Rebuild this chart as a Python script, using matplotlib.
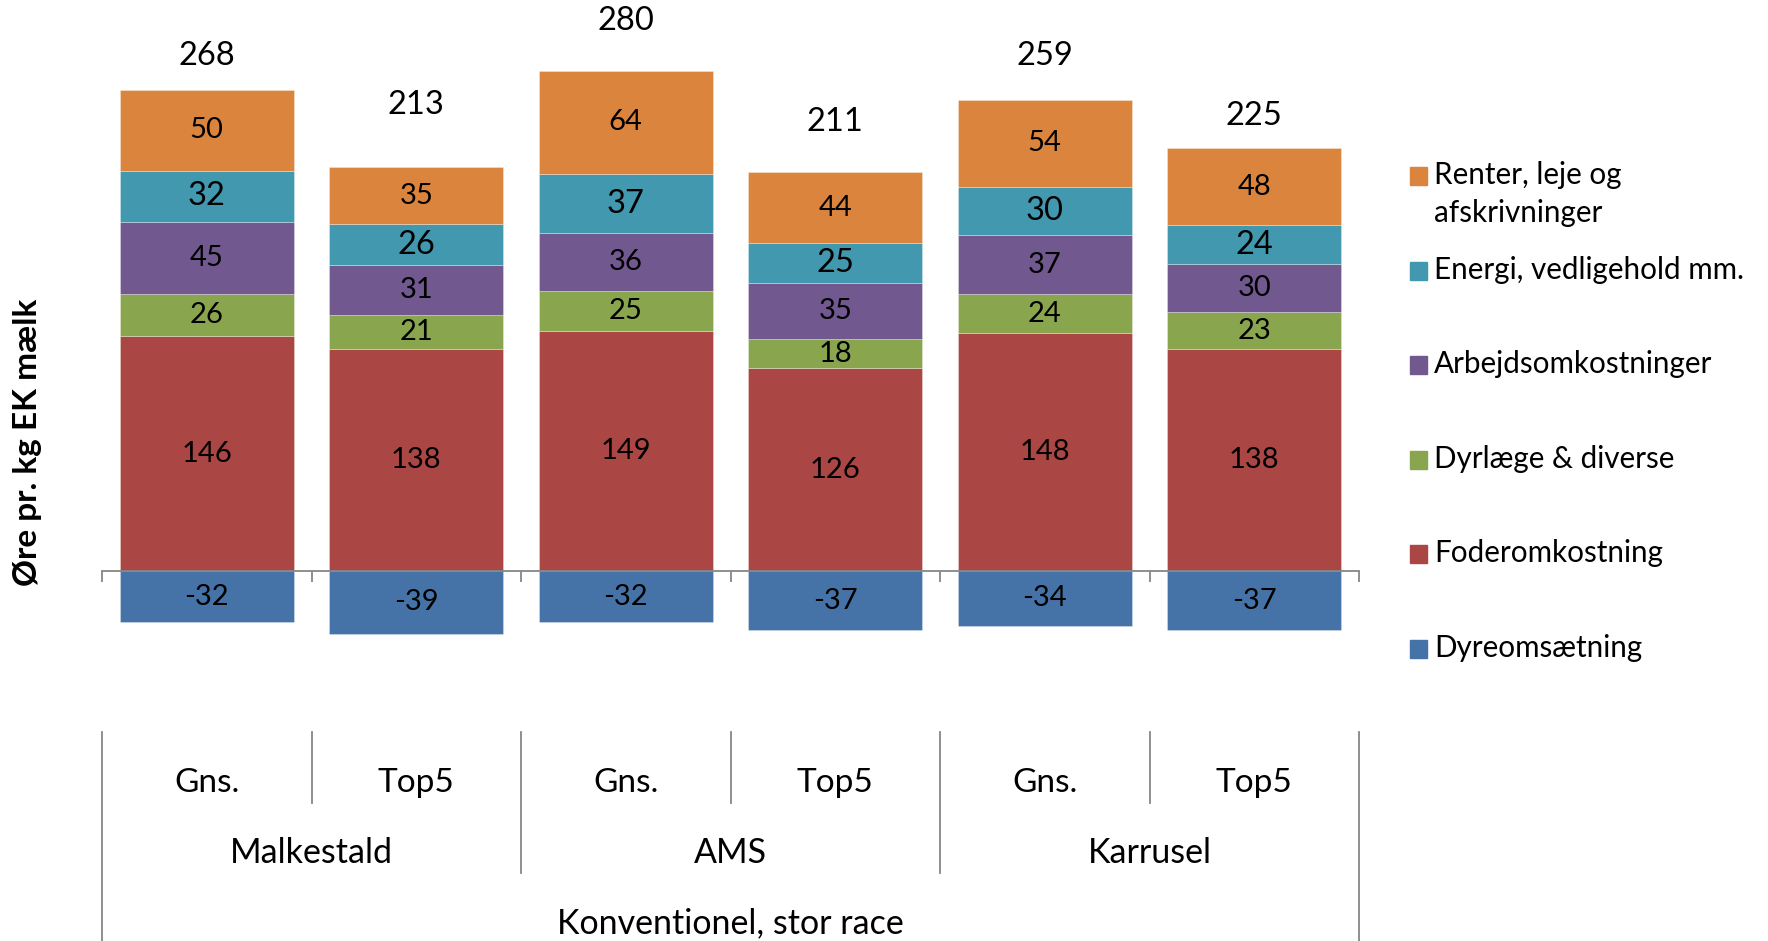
import matplotlib

matplotlib.use("Agg")
import matplotlib.pyplot as plt
import numpy as np
from matplotlib.lines import Line2D
from matplotlib.patches import Rectangle
from matplotlib.transforms import blended_transform_factory

plt.rcParams["font.family"] = ["Lato", "DejaVu Sans"]

# data
subgroups = ["Gns.", "Top5", "Gns.", "Top5", "Gns.", "Top5"]
groups = ["Malkestald", "AMS", "Karrusel"]
supergroup = "Konventionel, stor race"

dyreomsaetning = [-32, -39, -32, -37, -34, -37]
foder = [146, 138, 149, 126, 148, 138]
dyrlaege = [26, 21, 25, 18, 24, 23]
arbejde = [45, 31, 36, 35, 37, 30]
energi = [32, 26, 37, 25, 30, 24]
renter = [50, 35, 64, 44, 54, 48]
totals = [268, 213, 280, 211, 259, 225]

legend_labels = [
    "Renter, leje og\nafskrivninger",
    "Energi, vedligehold mm.",
    "Arbejdsomkostninger",
    "Dyrlæge & diverse",
    "Foderomkostning",
    "Dyreomsætning",
]

C_BLUE = "#4572A7"
C_RED = "#AA4643"
C_GREEN = "#89A54E"
C_PURPLE = "#71588F"
C_TEAL = "#4198AF"
C_ORANGE = "#DB843D"
GRAY = "#868686"

W, H = 1768, 941
fig = plt.figure(figsize=(W / 100, H / 100), dpi=100)

ax_left, ax_right = 102, 1359
ax_top, ax_bottom = 0, 660
zero_px = 571
scale = 1.608  # px per unit
ax = fig.add_axes([ax_left / W, 1 - ax_bottom / H, (ax_right - ax_left) / W, (ax_bottom - ax_top) / H])
ax.set_xlim(-0.5, 5.5)
ax.set_ylim(-(ax_bottom - zero_px) / scale, zero_px / scale)

x = np.arange(len(subgroups))
bw = 0.83
edge = dict(edgecolor=(1, 1, 1, 0.35), linewidth=0.6)

ax.bar(x, dyreomsaetning, width=bw, color=C_BLUE, **edge)
for i, v in enumerate(dyreomsaetning):
    ax.text(x[i], v / 2, str(v), ha="center", va="center", fontsize=21)

stack = [(foder, C_RED, 21), (dyrlaege, C_GREEN, 21), (arbejde, C_PURPLE, 21),
         (energi, C_TEAL, 23.5), (renter, C_ORANGE, 21)]
bottom = np.zeros(len(x))
for vals, col, fs in stack:
    vals = np.array(vals)
    ax.bar(x, vals, width=bw, bottom=bottom, color=col, **edge)
    for i, v in enumerate(vals):
        ax.text(x[i], bottom[i] + v / 2, str(v), ha="center", va="center", fontsize=fs)
    bottom = bottom + vals

# total labels sit above each positive stack (offsets)
total_pad = [21, 39, 31, 31, 27, 20]
for i, t in enumerate(totals):
    ax.text(x[i], bottom[i] + total_pad[i], str(t), ha="center", va="center", fontsize=23.5)

# axis styling
for s in ["left", "right", "top"]:
    ax.spines[s].set_visible(False)
ax.spines["bottom"].set_position(("data", 0))
ax.spines["bottom"].set_color(GRAY)
ax.spines["bottom"].set_linewidth(1.3)
ax.set_yticks([])
ax.set_xticks(np.arange(-0.5, 6, 1))
ax.tick_params(axis="x", direction="out", length=8, width=1.3, color=GRAY, labelbottom=False)

# multi-level category axis
tr = blended_transform_factory(ax.transData, fig.transFigure)


def fy(px):
    return 1 - px / H


def vline(xd, y0, y1):
    fig.add_artist(Line2D([xd, xd], [fy(y0), fy(y1)], transform=tr, color=GRAY, lw=1.3))


for b in [-0.5, 5.5]:
    vline(b, 732, 941)
for b in [1.5, 3.5]:
    vline(b, 732, 873)
for b in [0.5, 2.5, 4.5]:
    vline(b, 732, 803)

for i, lab in enumerate(subgroups):
    fig.text(x[i], fy(792), lab, transform=tr, ha="center", va="baseline", fontsize=24)
for j, lab in enumerate(groups):
    fig.text(2 * j + 0.5, fy(863), lab, transform=tr, ha="center", va="baseline", fontsize=24.5)
fig.text(2.5, fy(933), supergroup, transform=tr, ha="center", va="baseline", fontsize=24.5)

fig.text(28 / W, fy(442), "Øre pr. kg EK mælk", rotation=90, ha="center", va="center",
         fontsize=24, fontweight="bold")

# legend, drawn by hand to keep the square on the first text line
leg_colors = [C_ORANGE, C_TEAL, C_PURPLE, C_GREEN, C_RED, C_BLUE]
for k, (lab, col) in enumerate(zip(legend_labels, leg_colors)):
    yc = 176 + k * 94.6
    fig.add_artist(Rectangle((1410 / W, fy(yc + 9)), 17 / W, 18 / H, transform=fig.transFigure,
                             color=col))
    fig.text(1434 / W, fy(yc - 15), lab, ha="left", va="top", fontsize=21.3, linespacing=1.45)

fig.savefig("out.png", dpi=100)
